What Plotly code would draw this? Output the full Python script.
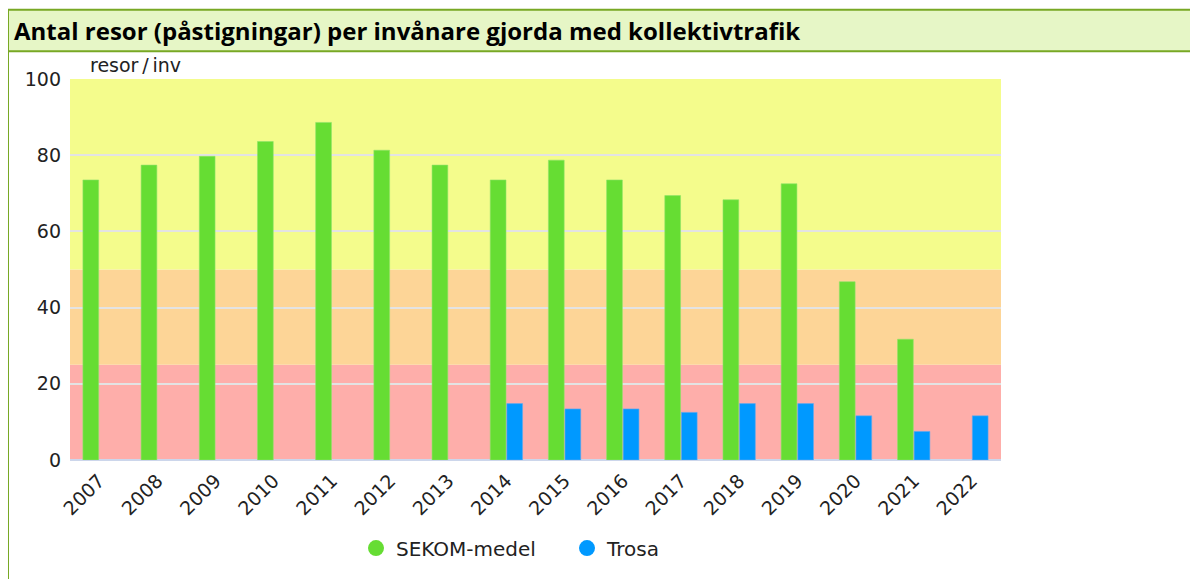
import plotly.graph_objects as go

years = ['2007', '2008', '2009', '2010', '2011', '2012', '2013', '2014',
         '2015', '2016', '2017', '2018', '2019', '2020', '2021', '2022']
sekom = [73.5, 77.4, 79.7, 83.6, 88.6, 81.3, 77.4, 73.5,
         78.7, 73.5, 69.4, 68.3, 72.5, 46.8, 31.7, None]
trosa = [None, None, None, None, None, None, None, 14.8,
         13.4, 13.4, 12.5, 14.8, 14.8, 11.6, 7.5, 11.6]

# färgzoner (från, till, färg)
zones = [(0, 25, '#feaeaa'), (25, 50, '#fdd597'), (50, 100, '#f4fc8c')]

title = 'Antal resor (påstigningar) per invånare gjorda med kollektivtrafik'

# sidan har 8px marginal runt diagrammet
OFF = 8
W, H = 1190, 571
L, T = 70 - OFF, 79 - OFF
R = W - (1001 - OFF)
B = H - (464 - OFF)
pw, ph = W - L - R, H - T - B


def px(x):
    return (x - OFF - L) / pw


def py(y):
    return (H - B - (y - OFF)) / ph


fig = go.Figure()
fig.add_trace(go.Bar(x=years, y=sekom, name='SEKOM-medel', showlegend=False,
                     marker=dict(color='#66dd33', line=dict(color='#8fe36a', width=0.6))))
fig.add_trace(go.Bar(x=years, y=trosa, name='Trosa', showlegend=False,
                     marker=dict(color='#0099ff', line=dict(color='#66aaee', width=0.6))))
# legend med cirklar
fig.add_trace(go.Scatter(x=[None], y=[None], mode='markers', name='SEKOM-medel',
                         marker=dict(color='#66dd33', size=17, symbol='circle')))
fig.add_trace(go.Scatter(x=[None], y=[None], mode='markers', name='Trosa',
                         marker=dict(color='#0099ff', size=17, symbol='circle')))

shapes = []
for y0, y1, c in zones:
    shapes.append(dict(type='rect', xref='paper', yref='y', x0=0, x1=1, y0=y0, y1=y1,
                       fillcolor=c, line_width=0, layer='below'))
# rubrikruta
shapes.append(dict(type='rect', xref='paper', yref='paper',
                   x0=px(8), x1=px(1210), y0=py(9), y1=py(51),
                   fillcolor='#e6f6c6', line=dict(color='#78a824', width=2), layer='above'))
shapes.append(dict(type='line', xref='paper', yref='paper',
                   x0=px(8), x1=px(8), y0=py(51), y1=py(590),
                   line=dict(color='#78a824', width=2)))

fig.update_layout(
    width=W, height=H,
    margin=dict(l=L, r=R, t=T, b=B),
    paper_bgcolor='white', plot_bgcolor='white',
    barmode='group', bargap=0.43, bargroupgap=0.05,
    font=dict(family='DejaVu Sans', color='#222222', size=19),
    shapes=shapes,
    xaxis=dict(tickangle=-45, showgrid=False, ticks='', showline=False,
               tickfont=dict(size=19), ticklabelstandoff=5, automargin=False,
               fixedrange=True),
    yaxis=dict(range=[0, 100], dtick=20, showgrid=True, gridcolor='#e3e3e3', gridwidth=2,
               zeroline=True, zerolinecolor='#ccd6eb', zerolinewidth=2,
               ticks='', tickfont=dict(size=19), ticklabelstandoff=8, automargin=False),
    legend=dict(orientation='h', x=px(356), xanchor='left', y=py(553), yanchor='middle',
                font=dict(size=20), itemsizing='trace', entrywidth=166,
                bgcolor='rgba(0,0,0,0)'),
    annotations=[
        dict(text=title, xref='paper', yref='paper', x=px(12), y=py(30),
             xanchor='left', yanchor='middle', showarrow=False,
             font=dict(family='Open Sans', size=24, color='black', weight='bold')),
        dict(text='resor\u2009/\u2009inv', xref='paper', yref='paper', x=px(88), y=py(65),
             xanchor='left', yanchor='middle', showarrow=False,
             font=dict(size=19, color='#222222')),
    ],
)

fig.write_html("out.html")
